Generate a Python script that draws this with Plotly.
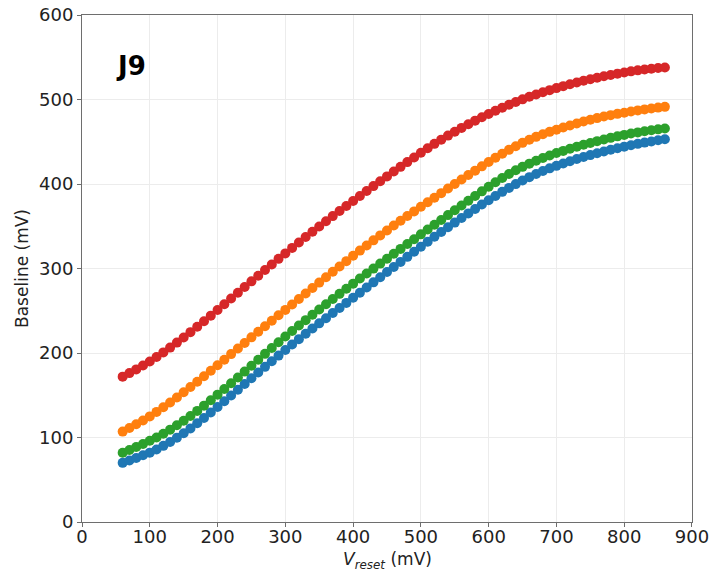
import plotly.graph_objects as go

# Reset voltage sweep (mV)
v_reset = list(range(60, 870, 10))

baseline_blue = [
    70.0, 72.8, 75.8, 78.9, 82.1, 85.9, 90.1, 94.7, 99.7, 105.1,
    110.8, 116.8, 123.1, 129.6, 136.2, 142.9, 149.7, 156.5, 163.3, 170.1,
    176.9, 183.6, 190.3, 196.9, 203.5, 210.0, 216.4, 222.7, 228.9, 235.1,
    241.2, 247.3, 253.3, 259.3, 265.3, 271.4, 277.5, 283.6, 289.7, 295.8,
    301.8, 307.8, 313.8, 319.8, 325.8, 331.7, 337.5, 343.2, 348.8, 354.3,
    359.8, 365.2, 370.5, 375.7, 380.8, 385.8, 390.7, 395.4, 399.9, 404.1,
    408.1, 411.8, 415.3, 418.5, 421.5, 424.3, 427.0, 429.5, 431.9, 434.2,
    436.4, 438.5, 440.5, 442.4, 444.2, 445.9, 447.5, 449.0, 450.4, 451.7,
    452.9,
]

baseline_orange = [
    107.0, 111.2, 115.6, 120.2, 125.0, 130.3, 135.8, 141.5, 147.4, 153.5,
    159.7, 166.0, 172.4, 178.9, 185.5, 192.1, 198.7, 205.3, 211.9, 218.5,
    225.1, 231.6, 238.1, 244.6, 251.0, 257.5, 264.0, 270.5, 276.9, 283.3,
    289.7, 296.1, 302.4, 308.7, 315.0, 321.2, 327.3, 333.3, 339.2, 345.0,
    350.8, 356.5, 362.1, 367.6, 373.0, 378.4, 383.8, 389.2, 394.6, 400.0,
    405.3, 410.6, 415.8, 420.9, 426.0, 431.0, 435.8, 440.4, 444.7, 448.7,
    452.4, 455.8, 458.9, 461.7, 464.2, 466.8, 469.3, 471.7, 473.9, 476.0,
    478.0, 479.8, 481.5, 483.0, 484.4, 485.8, 487.1, 488.3, 489.4, 490.4,
    491.3,
]

baseline_green = [
    82.0, 85.3, 88.8, 92.4, 96.1, 100.1, 104.5, 109.3, 114.4, 119.8,
    125.5, 131.5, 137.7, 144.1, 150.7, 157.4, 164.2, 171.1, 178.0, 185.0,
    192.0, 199.0, 205.9, 212.8, 219.6, 226.1, 232.5, 238.9, 245.2, 251.5,
    257.7, 263.9, 270.0, 276.1, 282.1, 288.1, 294.0, 299.9, 305.8, 311.6,
    317.4, 323.2, 329.0, 334.7, 340.4, 346.1, 351.8, 357.5, 363.2, 368.9,
    374.6, 380.2, 385.8, 391.3, 396.8, 402.1, 407.1, 411.8, 416.2, 420.3,
    424.1, 427.6, 430.8, 433.8, 436.6, 439.2, 441.7, 444.1, 446.4, 448.6,
    450.7, 452.7, 454.6, 456.4, 458.1, 459.7, 461.1, 462.4, 463.6, 464.7,
    465.7,
]

baseline_red = [
    172.0, 176.2, 180.6, 185.2, 190.0, 195.2, 200.7, 206.4, 212.3, 218.4,
    224.7, 231.1, 237.6, 244.2, 250.9, 257.7, 264.5, 271.3, 278.1, 284.8,
    291.5, 298.2, 304.8, 311.4, 317.9, 324.4, 330.8, 337.2, 343.5, 349.7,
    355.9, 362.0, 368.0, 374.0, 379.9, 385.8, 391.7, 397.5, 403.3, 409.0,
    414.7, 420.3, 425.9, 431.4, 436.9, 442.3, 447.5, 452.5, 457.3, 461.9,
    466.4, 470.8, 475.0, 479.0, 482.9, 486.7, 490.3, 493.8, 497.1, 500.2,
    503.2, 506.0, 508.6, 511.1, 513.5, 515.8, 518.0, 520.1, 522.1, 524.0,
    525.8, 527.5, 529.1, 530.6, 532.0, 533.3, 534.5, 535.5, 536.4, 537.2,
    537.9,
]

series = [
    ("blue", baseline_blue, "#1f77b4"),
    ("orange", baseline_orange, "#ff7f0e"),
    ("green", baseline_green, "#2ca02c"),
    ("red", baseline_red, "#d62728"),
]

x_ticks = [0, 100, 200, 300, 400, 500, 600, 700, 800, 900]
y_ticks = [0, 100, 200, 300, 400, 500, 600]

fig = go.Figure()
for name, vals, color in series:
    fig.add_trace(go.Scatter(
        x=v_reset, y=vals, mode="markers", name=name,
        marker=dict(color=color, size=10, line=dict(width=0)),
        showlegend=False,
    ))

axis_common = dict(
    showline=True, linecolor="#6e6e6e", linewidth=1, mirror=True,
    showgrid=True, gridcolor="#ececec", gridwidth=1,
    ticks="outside", ticklen=4, tickcolor="#6e6e6e",
    tickfont=dict(family="DejaVu Sans", size=18, color="#222222"),
    zeroline=False, automargin=False, ticklabeloverflow="allow",
)

fig.update_xaxes(range=[0, 900.01], tickvals=x_ticks,
                 ticklabelstandoff=-6, **axis_common)
fig.update_yaxes(
    range=[0, 600.01], tickvals=y_ticks,
    title=dict(text="Baseline (mV)",
               font=dict(family="DejaVu Sans", size=17, color="#222222"),
               standoff=6),
    **axis_common,
)

# x-axis title with subscripted V_reset
fig.add_annotation(
    x=0.5, y=-0.076, xref="paper", yref="paper",
    text="<i>V</i><sub><i>reset</i></sub> (mV)", showarrow=False,
    xanchor="center", yanchor="middle",
    font=dict(family="DejaVu Sans", size=17, color="#222222"),
)

fig.add_annotation(
    x=0.08, y=0.9, xref="paper", yref="paper",
    text="<b>J9</b>", showarrow=False, xanchor="center", yanchor="middle",
    font=dict(family="DejaVu Sans", size=26, color="#000000"),
)

fig.update_layout(
    width=709, height=573,
    margin=dict(l=82, r=17, t=15, b=51),
    plot_bgcolor="white", paper_bgcolor="white",
)

fig.write_html("out.html")
